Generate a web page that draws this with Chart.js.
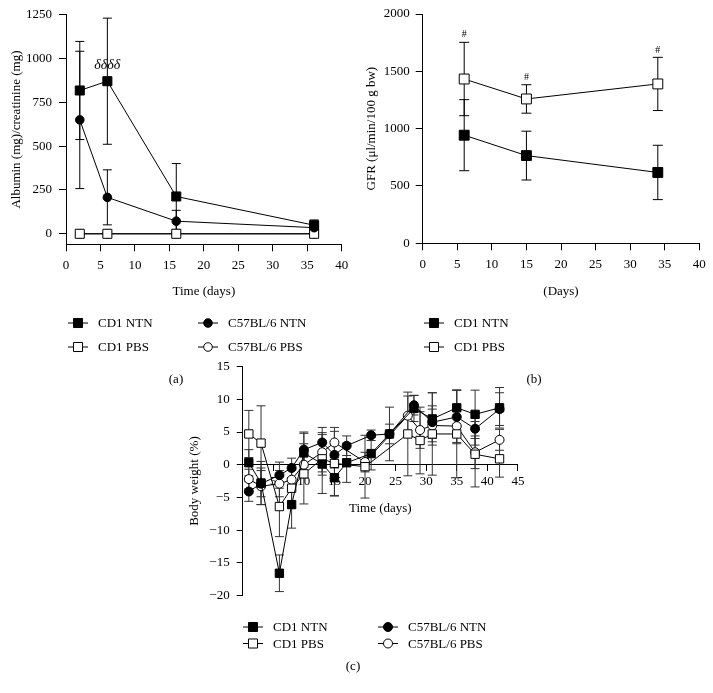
<!DOCTYPE html>
<html><head><meta charset="utf-8">
<script src="https://cdn.jsdelivr.net/npm/chart.js@4"></script>
<style>
html,body{margin:0;padding:0;background:#fff;}
body{width:713px;height:693px;position:relative;overflow:hidden;}
.box{position:absolute;}
canvas{display:block;}
</style></head><body>
<div class="box" style="left:0;top:0;"><canvas id="ca" width="360" height="395"></canvas></div>
<div class="box" style="left:360px;top:0;"><canvas id="cb" width="353" height="395"></canvas></div>
<div class="box" style="left:150px;top:350px;"><canvas id="cc" width="420" height="343"></canvas></div>
<script>
// ---------- Panel (a): albumin / creatinine ----------
const albDays = [2, 6, 16, 36];
const albCD1NTN = [818, 871, 213, 49];
const albCD1NTNErr = [280, 360, 188, 30];
const albC57NTN = [650, 208, 72, 35];
const albC57NTNErr = [392, 157, 62, 20];
const albCD1PBS = [0, 0, 0, 0];
const albCD1PBSErr = [5, 5, 5, 5];
const albC57PBS = [0, 0, 0, 0];
const albC57PBSErr = [3, 3, 3, 3];
const albXTicks = [0, 5, 10, 15, 20, 25, 30, 35, 40];
const albYTicks = [0, 250, 500, 750, 1000, 1250];
const albMarkText = 'δδδδ';
const albMarkDay = 6;
const albMarkValue = 961;

// ---------- Panel (b): GFR ----------
const gfrDays = [6, 15, 34];
const gfrCD1NTN = [943, 765, 618];
const gfrCD1NTNErr = [310, 213, 237];
const gfrCD1PBS = [1433, 1259, 1390];
const gfrCD1PBSErr = [320, 124, 232];
const gfrXTicks = [0, 5, 10, 15, 20, 25, 30, 35, 40];
const gfrYTicks = [0, 500, 1000, 1500, 2000];
const gfrMarkText = '#';

// ---------- Panel (c): body weight ----------
const bwDaysNTN = [1, 3, 6, 8, 10, 13, 15, 17, 21, 24, 28, 31, 35, 38, 42];
const bwCD1NTN = [0.3, -2.8, -16.6, -6.1, 1.8, 0.1, -2.0, 0.3, 1.7, 4.7, 8.6, 7.0, 8.7, 7.7, 8.7];
const bwCD1NTNErr = [2.0, 3.3, 2.8, 3.6, 3.0, 4.5, 2.8, 3.0, 2.5, 4.1, 2.0, 4.0, 2.7, 3.7, 3.1];
const bwC57NTN = [-4.1, -2.9, -1.6, -0.5, 2.3, 3.4, 1.5, 2.9, 4.5, 4.7, 9.1, 6.5, 7.3, 5.5, 8.5];
const bwC57NTNErr = [1.5, 2.0, 2.0, 1.5, 2.7, 2.3, 2.0, 1.5, 0.8, 1.5, 1.5, 2.5, 4.1, 2.5, 2.5];
const bwDaysPBS = [1, 3, 6, 8, 10, 13, 15, 20, 27, 29, 31, 35, 38, 42];
const bwCD1PBS = [4.7, 3.3, -6.4, -3.6, -1.4, 0.9, 0.2, -0.3, 4.7, 3.7, 4.7, 4.7, 1.6, 0.9];
const bwCD1PBSErr = [3.6, 5.7, 4.6, 3.0, 4.6, 2.5, 4.9, 4.8, 6.4, 5.1, 6.3, 6.7, 5.0, 2.8];
const bwC57PBS = [-2.2, -3.3, -2.9, -2.3, 0.0, 1.9, 3.4, 0.4, 7.5, 5.3, 6.0, 5.9, 1.9, 3.8];
const bwC57PBSErr = [1.5, 2.8, 2.0, 1.5, 2.0, 3.0, 2.3, 1.5, 3.0, 2.8, 2.5, 2.5, 2.5, 1.6];
const bwXTicks = [5, 10, 15, 20, 25, 30, 35, 40, 45];
const bwYTicks = [-20, -15, -10, -5, 0, 5, 10, 15];

const FONT = '"Liberation Serif", "DejaVu Serif", serif';
Chart.defaults.font.family = FONT;
Chart.defaults.font.size = 13;
Chart.defaults.color = '#000';

function drawMarker(ctx, x, y, shape, filled, r) {
  ctx.save();
  ctx.beginPath();
  if (shape === 'rect') { const s = r * Math.SQRT1_2; ctx.rect(x - s, y - s, 2 * s, 2 * s); }
  else ctx.arc(x, y, r, 0, Math.PI * 2);
  ctx.fillStyle = filled ? '#000' : '#fff';
  ctx.fill();
  ctx.lineWidth = 1; ctx.strokeStyle = '#000';
  ctx.stroke();
  ctx.restore();
}

function ds(label, xs, ys, errs, shape, filled, r) {
  return {
    label, errs, shape, filled, r,
    data: xs.map((x, i) => ({ x, y: ys[i] })),
    showLine: true, borderColor: '#000', borderWidth: 1, tension: 0, fill: false,
    pointStyle: shape, pointRadius: r, pointHoverRadius: r,
    pointBackgroundColor: filled ? '#000' : '#fff', pointBorderColor: '#000', pointBorderWidth: 1,
    backgroundColor: filled ? '#000' : '#fff'
  };
}

const errorBars = {
  id: 'errorBars',
  beforeDatasetsDraw(chart, args, opts) {
    const ctx = chart.ctx, ys = chart.scales.y;
    ctx.save();
    ctx.strokeStyle = opts.color || '#000';
    ctx.lineWidth = 1;
    chart.data.datasets.forEach((d, di) => {
      const meta = chart.getDatasetMeta(di);
      d.data.forEach((p, i) => {
        const e = d.errs[i];
        const x = meta.data[i].x;
        const y1 = ys.getPixelForValue(p.y + e), y2 = ys.getPixelForValue(p.y - e);
        const c = opts.cap;
        ctx.beginPath();
        ctx.moveTo(x, y1); ctx.lineTo(x, y2);
        ctx.moveTo(x - c, y1); ctx.lineTo(x + c, y1);
        ctx.moveTo(x - c, y2); ctx.lineTo(x + c, y2);
        ctx.stroke();
      });
    });
    ctx.restore();
  }
};

const extras = {
  id: 'extras',
  afterDraw(chart, args, opts) {
    const ctx = chart.ctx;
    ctx.save();
    ctx.fillStyle = '#000';
    ctx.textBaseline = 'middle';
    (opts.legend || []).forEach(it => {
      ctx.beginPath();
      ctx.strokeStyle = '#000'; ctx.lineWidth = 1;
      ctx.moveTo(it.x - 10, it.y); ctx.lineTo(it.x + 10, it.y); ctx.stroke();
      drawMarker(ctx, it.x, it.y, it.shape, it.filled, it.r);
      ctx.font = '13px ' + FONT;
      ctx.textAlign = 'left';
      ctx.fillStyle = '#000';
      ctx.fillText(it.label, it.x + 20, it.y + 1);
    });
    (opts.notes || []).forEach(n => {
      ctx.font = n.font;
      ctx.textAlign = 'center';
      ctx.fillText(n.text, chart.scales.x.getPixelForValue(n.x), chart.scales.y.getPixelForValue(n.y));
    });
    if (opts.panel) {
      ctx.font = '13px ' + FONT;
      ctx.textAlign = 'center';
      ctx.fillText(opts.panel.text, opts.panel.x, opts.panel.y);
    }
    ctx.restore();
  }
};

const fmtTick = v => String(v).replace('-', '\u2212');

function axisBase(ticksArr, tickLen, pad) {
  return {
    type: 'linear',
    afterBuildTicks: s => { s.ticks = ticksArr.map(v => ({ value: v })); },
    grid: { drawOnChartArea: false, drawTicks: true, tickLength: tickLen, color: '#000', lineWidth: 1 },
    border: { display: true, color: '#000', width: 1 },
    ticks: { autoSkip: false, maxRotation: 0, padding: pad, color: '#000', font: { size: 13 }, callback: fmtTick }
  };
}

// ---- Chart (a)
{
  const xA = axisBase(albXTicks, 7, 6);
  Object.assign(xA, { min: 0, max: 40, afterFit: s => { s.height = 55.5; },
    title: { display: true, text: 'Time (days)', color: '#000', font: { size: 13 }, padding: { top: 0, bottom: 0 } } });
  const yA = axisBase(albYTicks, 7, 7);
  Object.assign(yA, { min: -60, max: 1250, afterFit: s => { s.width = 66; },
    title: { display: true, text: 'Albumin (mg)/creatinine (mg)', color: '#000', font: { size: 13 }, padding: { top: 9, bottom: 0 } } });
  new Chart(document.getElementById('ca'), {
    type: 'scatter',
    data: { datasets: [
      ds('CD1 NTN', albDays, albCD1NTN, albCD1NTNErr, 'rect', true, 6.4),
      ds('C57BL/6 NTN', albDays, albC57NTN, albC57NTNErr, 'circle', true, 4.3),
      ds('CD1 PBS', albDays, albCD1PBS, albCD1PBSErr, 'rect', false, 6.4),
      ds('C57BL/6 PBS', albDays, albC57PBS, albC57PBSErr, 'circle', false, 4.3)
    ] },
    options: {
      responsive: false, animation: false, events: [],
      layout: { padding: { left: 0, right: 18.3, top: 14, bottom: 95.2 } },
      plugins: { legend: { display: false }, tooltip: { enabled: false },
        errorBars: { cap: 4.5, color: '#000' },
        extras: {
          legend: [
            { label: 'CD1 NTN', shape: 'rect', filled: true, r: 6.4, x: 78, y: 323 },
            { label: 'CD1 PBS', shape: 'rect', filled: false, r: 6.4, x: 78, y: 347 },
            { label: 'C57BL/6 NTN', shape: 'circle', filled: true, r: 4.3, x: 208, y: 323 },
            { label: 'C57BL/6 PBS', shape: 'circle', filled: false, r: 4.3, x: 208, y: 347 }
          ],
          notes: [{ text: albMarkText, x: albMarkDay, y: albMarkValue, font: 'italic 14px ' + FONT }],
          panel: { text: '(a)', x: 176, y: 380 }
        } },
      scales: { x: xA, y: yA }
    },
    plugins: [errorBars, extras]
  });
}

// ---- Chart (b)
{
  const xB = axisBase(gfrXTicks, 7, 6);
  Object.assign(xB, { min: 0, max: 40, afterFit: s => { s.height = 56.5; },
    title: { display: true, text: '(Days)', color: '#000', font: { size: 13 }, padding: { top: 0, bottom: 0 } } });
  const yB = axisBase(gfrYTicks, 7, 6);
  Object.assign(yB, { min: 0, max: 2000, afterFit: s => { s.width = 62.7; },
    title: { display: true, text: 'GFR (μl/min/100 g bw)', color: '#000', font: { size: 13 }, padding: { top: 4, bottom: 0 } } });
  const hashNotes = gfrDays.map((d, i) => ({ text: gfrMarkText, x: d, y: gfrCD1PBS[i] + gfrCD1PBSErr[i] + 65, font: '10px ' + FONT }));
  new Chart(document.getElementById('cb'), {
    type: 'scatter',
    data: { datasets: [
      ds('CD1 NTN', gfrDays, gfrCD1NTN, gfrCD1NTNErr, 'rect', true, 7),
      ds('CD1 PBS', gfrDays, gfrCD1PBS, gfrCD1PBSErr, 'rect', false, 7)
    ] },
    options: {
      responsive: false, animation: false, events: [],
      layout: { padding: { left: 0, right: 13.7, top: 14, bottom: 95.2 } },
      plugins: { legend: { display: false }, tooltip: { enabled: false },
        errorBars: { cap: 5, color: '#000' },
        extras: {
          legend: [
            { label: 'CD1 NTN', shape: 'rect', filled: true, r: 6.4, x: 74, y: 323 },
            { label: 'CD1 PBS', shape: 'rect', filled: false, r: 6.4, x: 74, y: 347 }
          ],
          notes: hashNotes,
          panel: { text: '(b)', x: 174, y: 380 }
        } },
      scales: { x: xB, y: yB }
    },
    plugins: [errorBars, extras]
  });
}

// ---- Chart (c)
{
  const xC = axisBase(bwXTicks, 6, 3);
  Object.assign(xC, { min: 0, max: 45, position: { y: 0 }, afterFit: s => { s.height = 51.2; },
    title: { display: true, text: 'Time (days)', color: '#000', font: { size: 13 }, padding: { top: 0, bottom: 0 } } });
  const yC = axisBase(bwYTicks, 6, 7);
  Object.assign(yC, { min: -20, max: 15, afterFit: s => { s.width = 92.7; },
    title: { display: true, text: 'Body weight (%)', color: '#000', font: { size: 13 }, padding: { top: 37, bottom: 0 } } });
  new Chart(document.getElementById('cc'), {
    type: 'scatter',
    data: { datasets: [
      ds('CD1 NTN', bwDaysNTN, bwCD1NTN, bwCD1NTNErr, 'rect', true, 5.9),
      ds('C57BL/6 NTN', bwDaysNTN, bwC57NTN, bwC57NTNErr, 'circle', true, 4.5),
      ds('CD1 PBS', bwDaysPBS, bwCD1PBS, bwCD1PBSErr, 'rect', false, 5.9),
      ds('C57BL/6 PBS', bwDaysPBS, bwC57PBS, bwC57PBSErr, 'circle', false, 4.5)
    ] },
    options: {
      responsive: false, animation: false, events: [],
      layout: { padding: { left: 0, right: 52.1, top: 16.6, bottom: 97.5 } },
      plugins: { legend: { display: false }, tooltip: { enabled: false },
        errorBars: { cap: 4.5, color: '#333' },
        extras: {
          legend: [
            { label: 'CD1 NTN', shape: 'rect', filled: true, r: 6.4, x: 103, y: 277 },
            { label: 'CD1 PBS', shape: 'rect', filled: false, r: 6.4, x: 103, y: 293.5 },
            { label: 'C57BL/6 NTN', shape: 'circle', filled: true, r: 4.5, x: 238, y: 277 },
            { label: 'C57BL/6 PBS', shape: 'circle', filled: false, r: 4.5, x: 238, y: 293.5 }
          ],
          panel: { text: '(c)', x: 203, y: 317 }
        } },
      scales: { x: xC, y: yC }
    },
    plugins: [errorBars, extras]
  });
}
</script>
</body></html>
